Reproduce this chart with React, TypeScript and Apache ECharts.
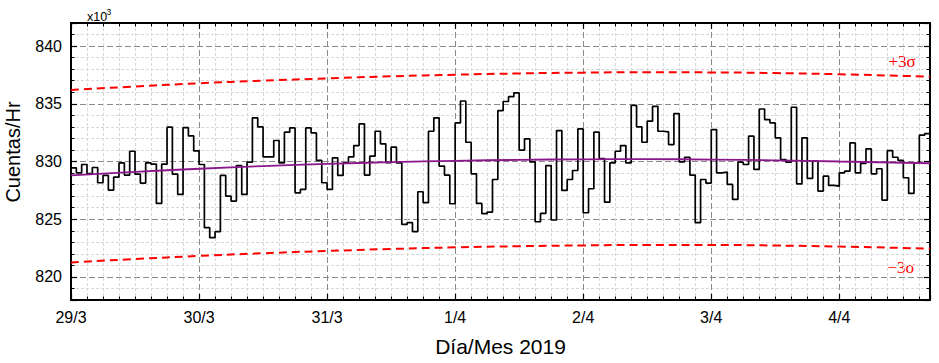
import React, { useEffect, useRef } from "react";
import * as echarts from "echarts";

// Hourly counts (x10^3 counts/hr), starting 29/3 00:00
const hourlyCounts = [
  829.45, 829.02, 829.74, 828.96, 829.48, 828.16, 828.79, 827.52, 828.65, 829.88,
  828.82, 830.89, 828.9, 828.13, 829.88, 829.77, 826.37, 829.77, 832.97, 828.9,
  827.15, 832.94, 832.22, 830.92, 829.74, 824.27, 823.4, 823.92, 828.79, 827.0,
  826.57, 829.65, 827.15, 829.94, 833.78, 833.0, 830.4, 830.4, 831.82, 829.88,
  832.54, 832.91, 827.29, 827.58, 832.91, 832.48, 830.09, 828.16, 827.58, 830.32,
  828.79, 829.88, 830.4, 831.38, 833.26, 828.82, 830.46, 832.62, 831.53, 829.91,
  831.24, 829.88, 824.55, 824.7, 823.93, 827.38, 826.43, 832.62, 833.78, 829.6,
  828.82, 826.34, 833.34, 835.24, 831.67, 828.93, 826.37, 825.48, 825.62, 828.44,
  834.41, 835.2, 835.62, 835.94, 830.98, 831.96, 829.97, 824.78, 825.5, 829.65,
  824.93, 832.68, 827.49, 828.44, 829.22, 832.82, 825.56, 827.64, 832.54, 830.26,
  826.48, 829.88, 830.89, 831.38, 829.88, 834.87, 833.0, 831.67, 833.49, 834.78,
  832.62, 832.56, 831.47, 834.15, 829.97, 830.37, 828.82, 824.7, 828.44, 828.13,
  832.77, 829.02, 829.08, 828.01, 826.71, 829.94, 829.74, 832.19, 829.31, 834.55,
  833.63, 833.34, 832.05, 830.17, 829.94, 834.7, 828.07, 832.05, 828.53, 830.03,
  827.44, 828.73, 827.93, 827.87, 829.02, 829.16, 831.61, 829.02, 829.83, 831.1,
  828.93, 829.37, 826.66, 830.95, 830.37, 830.09, 828.59, 827.23, 829.88, 832.28,
  832.42,
];
const xMaxHours = 161;

const dayLabels = ["29/3", "30/3", "31/3", "1/4", "2/4", "3/4", "4/4"];

const fitHours = [0, 12, 24, 36, 48, 60, 72, 84, 96, 108, 120, 132, 144, 161];
const fitValues = [828.8, 829.1, 829.37, 829.6, 829.79, 829.94, 830.06, 830.14, 830.19, 830.2, 830.17, 830.1, 830.0, 829.85];
const upperValues = [836.2, 836.5, 836.78, 837.0, 837.2, 837.38, 837.52, 837.63, 837.7, 837.73, 837.72, 837.66, 837.56, 837.35];
const lowerValues = [821.25, 821.55, 821.82, 822.05, 822.25, 822.42, 822.56, 822.66, 822.73, 822.77, 822.77, 822.72, 822.63, 822.45];

const SANS = "'Liberation Sans', Arial, sans-serif";
const SERIF = "'Liberation Serif', 'Times New Roman', serif";

function txt(text: string, x: number, y: number, size: number, family: string, fill: string, align: string, rotation = 0) {
  return {
    type: "text", x, y, rotation, silent: true,
    style: {
      text, fontSize: size, fontFamily: family, fill,
      textAlign: align, textVerticalAlign: "middle", align, verticalAlign: "middle",
    },
  };
}

export default function App() {
  const ref = useRef<HTMLDivElement>(null);
  useEffect(() => {
    document.body.style.margin = "0";
    const chart = echarts.init(ref.current!, null, { renderer: "svg" });
    const stepData: number[][] = hourlyCounts.map((v, i) => [i, v]);
    stepData.push([xMaxHours, hourlyCounts[hourlyCounts.length - 1]]);
    const zip = (vals: number[]) => fitHours.map((h, i) => [h, vals[i]]);

    const majorSplit = { show: true, lineStyle: { color: "#8a8a8a", width: 1, type: [6, 3] } };
    const minorSplit = { show: true, lineStyle: { color: "#d8d8d8", width: 1, type: [3, 2] } };
    const axisLine = { show: true, onZero: false, lineStyle: { color: "#000", width: 2 } };
    const axisTick = { show: true, inside: true, length: 6, lineStyle: { color: "#000", width: 1.2 } };
    const minorTick = (n: number) => ({ show: true, splitNumber: n, length: 3.5, lineStyle: { color: "#000", width: 1 } });

    const xCommon = { type: "value", min: 0, max: xMaxHours, interval: 24 };
    const yCommon = { type: "value", min: 818, max: 842, splitNumber: 5 };

    chart.setOption({
      animation: false,
      grid: { left: 71, right: 9, top: 23, bottom: 63 },
      xAxis: [
        {
          ...xCommon,
          position: "bottom",
          axisLine, axisTick, minorTick: minorTick(8),
          splitLine: majorSplit, minorSplitLine: minorSplit,
          axisLabel: {
            color: "#000", fontSize: 16, fontFamily: SANS, margin: 9,
            formatter: (v: number) => (v % 24 === 0 ? dayLabels[v / 24] ?? "" : ""),
          },
          name: "Día/Mes 2019", nameLocation: "middle", nameGap: 36,
          nameTextStyle: { color: "#000", fontSize: 21, fontFamily: SANS },
        },
        {
          ...xCommon,
          position: "top",
          axisLine, axisTick, minorTick: minorTick(8),
          splitLine: { show: false }, axisLabel: { show: false },
        },
      ],
      yAxis: [
        {
          ...yCommon,
          position: "left",
          axisLine, axisTick, minorTick: minorTick(5),
          splitLine: majorSplit, minorSplitLine: minorSplit,
          axisLabel: {
            color: "#000", fontSize: 16, fontFamily: SANS, margin: 9,
            formatter: (v: number) => (Math.round(v) % 5 === 0 && Math.abs(v - Math.round(v)) < 1e-6 ? String(v) : ""),
          },
        },
        {
          ...yCommon,
          position: "right",
          axisLine, axisTick, minorTick: minorTick(5),
          splitLine: { show: false }, axisLabel: { show: false },
        },
      ],
      graphic: [
        txt("Cuentas/Hr", 13, 152, 20, SANS, "#000", "center", Math.PI / 2),
        txt("x10", 87, 16.5, 12.5, SANS, "#000", "left"),
        txt("3", 106.5, 11.5, 8.5, SANS, "#000", "left"),
        txt("+3σ", 902, 61, 17, SERIF, "#ff0000", "center"),
        txt("\u22123σ", 901, 267, 17, SERIF, "#ff0000", "center"),
      ],
      series: [
        {
          type: "line", data: stepData, step: "end", showSymbol: false, silent: true,
          lineStyle: { color: "#000", width: 1.7 }, z: 3,
        },
        {
          type: "line", data: zip(fitValues), smooth: true, showSymbol: false, silent: true,
          lineStyle: { color: "#8b178b", width: 1.8 }, z: 4,
        },
        {
          type: "line", data: zip(upperValues), smooth: true, showSymbol: false, silent: true,
          lineStyle: { color: "#ff0000", width: 2, type: [8, 5] }, z: 4,
        },
        {
          type: "line", data: zip(lowerValues), smooth: true, showSymbol: false, silent: true,
          lineStyle: { color: "#ff0000", width: 2, type: [8, 5] }, z: 4,
        },
      ],
    });
    return () => chart.dispose();
  }, []);
  return <div ref={ref} style={{ width: 939, height: 363 }} />;
}
